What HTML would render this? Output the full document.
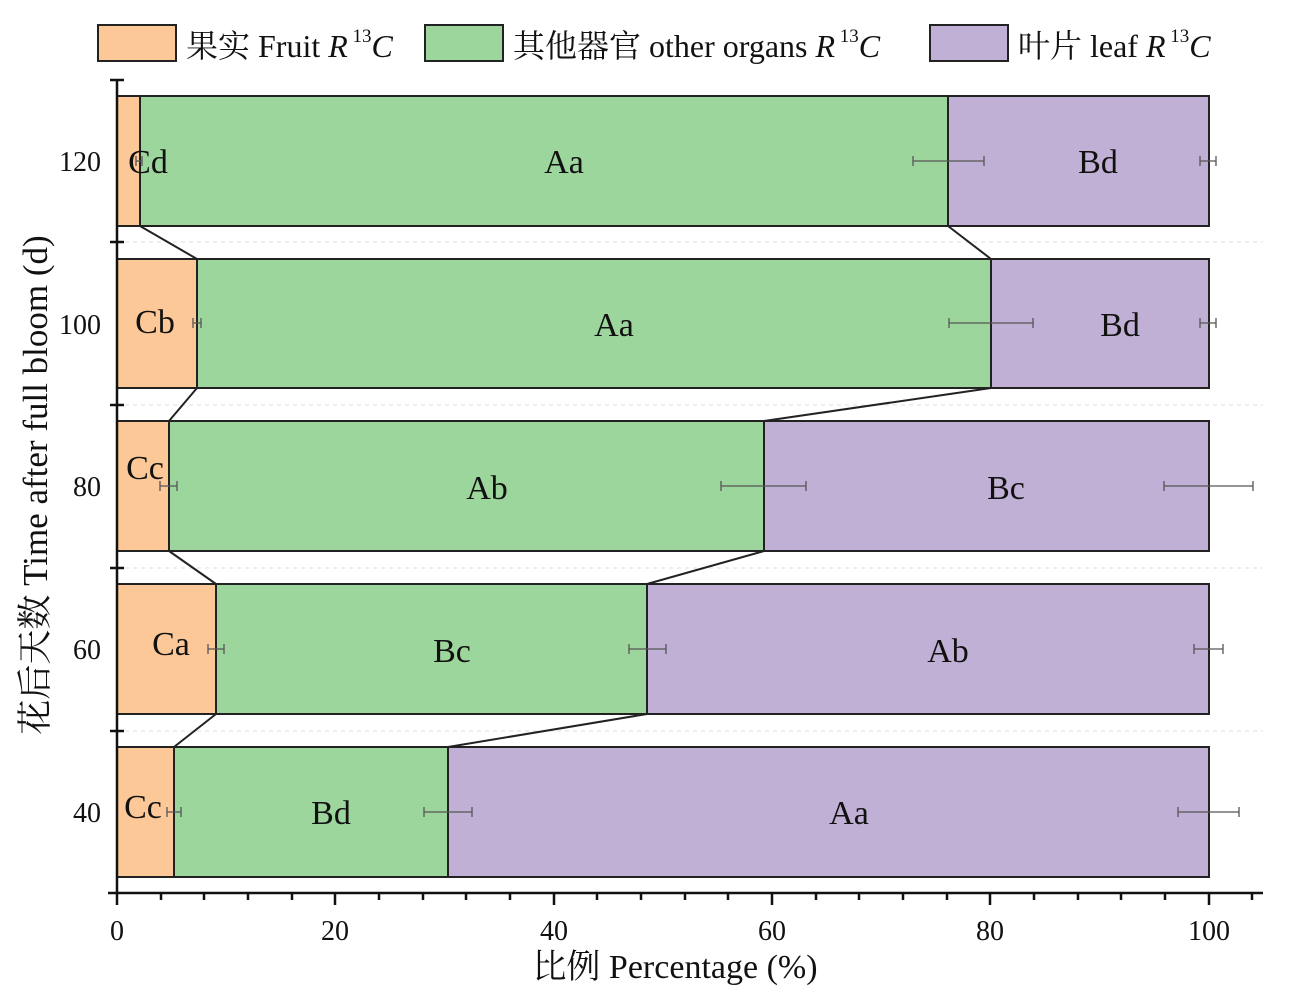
<!DOCTYPE html>
<html><head><meta charset="utf-8"><style>body{margin:0;background:#fff}svg{display:block}</style></head><body>
<svg width="1299" height="998" xmlns="http://www.w3.org/2000/svg" font-family="Liberation Serif, Noto Serif CJK SC, serif">
<rect width="1299" height="998" fill="#fff"/>
<g stroke="#222" stroke-width="2">
<rect x="98" y="25" width="78" height="36" fill="#fdc897"/>
<rect x="425" y="25" width="78" height="36" fill="#9dd69d"/>
<rect x="930" y="25" width="78" height="36" fill="#c1b0d5"/>
</g>
<g font-size="32" fill="#111">
<text x="186" y="57">果实 Fruit<tspan font-style="italic"> R</tspan><tspan font-size="19" dy="-15"> 13</tspan><tspan font-style="italic" dy="15">C</tspan></text>
<text x="513" y="57">其他器官 other organs<tspan font-style="italic"> R</tspan><tspan font-size="19" dy="-15"> 13</tspan><tspan font-style="italic" dy="15">C</tspan></text>
<text x="1018" y="57">叶片 leaf<tspan font-style="italic"> R</tspan><tspan font-size="19" dy="-15"> 13</tspan><tspan font-style="italic" dy="15">C</tspan></text>
</g>
<g stroke="#ddd" stroke-dasharray="4,4" stroke-width="1">
<line x1="117" y1="242" x2="1263" y2="242"/><line x1="117" y1="405" x2="1263" y2="405"/>
<line x1="117" y1="568" x2="1263" y2="568"/><line x1="117" y1="731" x2="1263" y2="731"/>
</g>
<g stroke="#222" stroke-width="2">
<rect x="117" y="96" width="23" height="130" fill="#fdc897"/><rect x="140" y="96" width="808" height="130" fill="#9dd69d"/><rect x="948" y="96" width="261" height="130" fill="#c1b0d5"/>
<rect x="117" y="259" width="80" height="129" fill="#fdc897"/><rect x="197" y="259" width="794" height="129" fill="#9dd69d"/><rect x="991" y="259" width="218" height="129" fill="#c1b0d5"/>
<rect x="117" y="421" width="52" height="130" fill="#fdc897"/><rect x="169" y="421" width="595" height="130" fill="#9dd69d"/><rect x="764" y="421" width="445" height="130" fill="#c1b0d5"/>
<rect x="117" y="584" width="99" height="130" fill="#fdc897"/><rect x="216" y="584" width="431" height="130" fill="#9dd69d"/><rect x="647" y="584" width="562" height="130" fill="#c1b0d5"/>
<rect x="117" y="747" width="57" height="130" fill="#fdc897"/><rect x="174" y="747" width="274" height="130" fill="#9dd69d"/><rect x="448" y="747" width="761" height="130" fill="#c1b0d5"/>
<line x1="140" y1="226" x2="197" y2="259"/><line x1="948" y1="226" x2="991" y2="259"/>
<line x1="197" y1="388" x2="169" y2="421"/><line x1="991" y1="388" x2="764" y2="421"/>
<line x1="169" y1="551" x2="216" y2="584"/><line x1="764" y1="551" x2="647" y2="584"/>
<line x1="216" y1="714" x2="174" y2="747"/><line x1="647" y1="714" x2="448" y2="747"/>
</g>
<g stroke="#555" stroke-width="1.3" fill="none">
<path d="M136 161H142M136 156V166M142 156V166"/>
<path d="M913 161H984M913 156V166M984 156V166"/>
<path d="M1200 161H1216M1200 156V166M1216 156V166"/>
<path d="M193 323H201M193 318V328M201 318V328"/>
<path d="M949 323H1033M949 318V328M1033 318V328"/>
<path d="M1200 323H1216M1200 318V328M1216 318V328"/>
<path d="M160 486H177M160 481V491M177 481V491"/>
<path d="M721 486H806M721 481V491M806 481V491"/>
<path d="M1164 486H1253M1164 481V491M1253 481V491"/>
<path d="M208 649H224M208 644V654M224 644V654"/>
<path d="M629 649H666M629 644V654M666 644V654"/>
<path d="M1194 649H1223M1194 644V654M1223 644V654"/>
<path d="M167 812H181M167 807V817M181 807V817"/>
<path d="M424 812H472M424 807V817M472 807V817"/>
<path d="M1178 812H1239M1178 807V817M1239 807V817"/>
</g>
<g font-size="34" fill="#111" text-anchor="middle">
<text x="148" y="173">Cd</text><text x="564" y="173">Aa</text><text x="1098" y="173">Bd</text>
<text x="155" y="333">Cb</text><text x="614" y="336">Aa</text><text x="1120" y="336">Bd</text>
<text x="145" y="479">Cc</text><text x="487" y="499">Ab</text><text x="1006" y="499">Bc</text>
<text x="171" y="655">Ca</text><text x="452" y="662">Bc</text><text x="948" y="662">Ab</text>
<text x="143" y="818">Cc</text><text x="331" y="824">Bd</text><text x="849" y="824">Aa</text>
</g>
<g stroke="#111" stroke-width="2.5" fill="none">
<line x1="117" y1="80" x2="117" y2="893"/>
<line x1="108" y1="893" x2="1263" y2="893"/>
<path d="M110 80H124M110 242H124M110 405H124M110 568H124M110 731H124"/>
<path d="M117 893V905M335 893V905M554 893V905M772 893V905M990 893V905M1209 893V905"/>
<path d="M161 893V900M204 893V900M248 893V900M292 893V900M379 893V900M423 893V900M466 893V900M510 893V900M597 893V900M641 893V900M685 893V900M728 893V900M816 893V900M859 893V900M903 893V900M947 893V900M1034 893V900M1078 893V900M1121 893V900M1165 893V900M1252 893V900"/>
</g>
<g font-size="28" fill="#111" text-anchor="end">
<text x="101" y="171">120</text><text x="101" y="334">100</text><text x="101" y="496">80</text><text x="101" y="659">60</text><text x="101" y="822">40</text>
</g>
<g font-size="28" fill="#111" text-anchor="middle">
<text x="117" y="940">0</text><text x="335" y="940">20</text><text x="554" y="940">40</text><text x="772" y="940">60</text><text x="990" y="940">80</text><text x="1209" y="940">100</text>
</g>
<text x="675" y="978" font-size="34" text-anchor="middle" fill="#111">比例  Percentage (%)</text>
<text transform="translate(47,485) rotate(-90)" font-size="35" text-anchor="middle" fill="#111">花后天数 Time after full bloom (d)</text>
</svg>
</body></html>
